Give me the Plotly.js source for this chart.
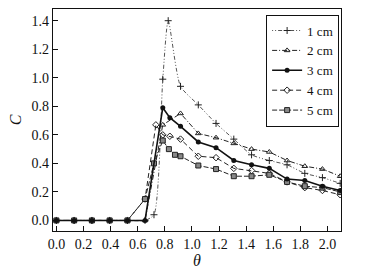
<!DOCTYPE html>
<html><head><meta charset="utf-8">
<script src="https://cdn.plot.ly/plotly-3.0.1.min.js"></script>
<style>html,body{margin:0;padding:0;background:#fff}#c{width:365px;height:279px}</style>
</head><body><div id="c"></div>
<script>
const names = ["1 cm", "2 cm", "3 cm", "4 cm", "5 cm"];
const x1 = [0, 0.131, 0.262, 0.393, 0.524, 0.654, 0.72, 0.785, 0.825, 0.916, 1.047, 1.178, 1.309, 1.44, 1.571, 1.702, 1.833, 1.963, 2.094];
const y1 = [0, 0, 0, 0, 0, 0, 0.04, 0.99, 1.40, 0.94, 0.81, 0.68, 0.57, 0.46, 0.42, 0.39, 0.33, 0.30, 0.26];
const x2 = [0, 0.131, 0.262, 0.393, 0.524, 0.654, 0.785, 0.916, 1.047, 1.178, 1.309, 1.44, 1.571, 1.702, 1.833, 1.963, 2.094];
const y2 = [0, 0, 0, 0, 0, 0, 0.67, 0.75, 0.61, 0.58, 0.54, 0.50, 0.48, 0.42, 0.38, 0.36, 0.31];
const x3 = [0, 0.131, 0.262, 0.393, 0.524, 0.654, 0.785, 0.837, 0.916, 1.047, 1.178, 1.309, 1.44, 1.571, 1.702, 1.833, 1.963, 2.094];
const y3 = [0, 0, 0, 0, 0, 0, 0.79, 0.72, 0.66, 0.55, 0.51, 0.42, 0.39, 0.365, 0.29, 0.28, 0.24, 0.21];
const x4 = [0, 0.131, 0.262, 0.393, 0.524, 0.654, 0.734, 0.785, 0.837, 0.916, 1.047, 1.178, 1.309, 1.44, 1.571, 1.702, 1.833, 1.963, 2.094];
const y4 = [0, 0, 0, 0, 0, 0.15, 0.67, 0.60, 0.59, 0.57, 0.45, 0.44, 0.365, 0.35, 0.33, 0.27, 0.23, 0.21, 0.18];
const x5 = [0, 0.131, 0.262, 0.393, 0.524, 0.654, 0.72, 0.785, 0.83, 0.875, 0.916, 1.047, 1.178, 1.309, 1.44, 1.571, 1.702, 1.833, 1.963, 2.094];
const y5 = [0, 0, 0, 0, 0, 0.15, 0.40, 0.56, 0.50, 0.46, 0.45, 0.385, 0.36, 0.31, 0.31, 0.32, 0.27, 0.24, 0.23, 0.20];
const xTicks = [0, 0.2, 0.4, 0.6, 0.8, 1.0, 1.2, 1.4, 1.6, 1.8, 2.0];
const yTicks = [0, 0.2, 0.4, 0.6, 0.8, 1.0, 1.2, 1.4];

const font = "Liberation Serif, Times New Roman, serif";
const traces = [
  {x: x1, y: y1, name: names[0], mode: "lines+markers", legendrank: 1,
   line: {color: "#555", width: 1, dash: "1px,2px,1px,2px,4px,2px", shape: "spline", smoothing: 0.6},
   marker: {symbol: "cross-thin", size: 5, line: {color: "#222", width: 1}}},
  {x: x2, y: y2, name: names[1], mode: "lines+markers", legendrank: 2,
   line: {color: "#222", width: 1, dash: "5px,2px,1px,2px"},
   marker: {symbol: "triangle-up-open", size: 5, color: "#222", line: {width: 1}}},
  {x: x4, y: y4, name: names[3], mode: "lines+markers", legendrank: 4,
   line: {color: "#222", width: 1, dash: "5px,3px"},
   marker: {symbol: "diamond-open", size: 5, color: "#222", line: {width: 1}}},
  {x: x5, y: y5, name: names[4], mode: "lines+markers", legendrank: 5,
   line: {color: "#222", width: 1, dash: "5px,2px"},
   marker: {symbol: "square", size: 5, color: "#888", line: {color: "#222", width: 1}}},
  {x: x3, y: y3, name: names[2], mode: "lines+markers", legendrank: 3,
   line: {color: "#111", width: 1.6},
   marker: {symbol: "circle", size: 5, color: "#111"}}
];
const layout = {
  width: 365, height: 279,
  margin: {l: 53, r: 24, t: 9, b: 48},
  paper_bgcolor: "#fff", plot_bgcolor: "#fff",
  font: {family: font, size: 14, color: "#111"},
  showlegend: true,
  legend: {x: 0.74, y: 0.975, xanchor: "left", yanchor: "top", bordercolor: "#111", borderwidth: 1,
           bgcolor: "#fff", font: {family: font, size: 13}, traceorder: "normal", itemwidth: 30, tracegroupgap: 0},
  xaxis: {range: [-0.025, 2.1], tickvals: xTicks, ticktext: xTicks.map(v => v.toFixed(1)),
          ticks: "inside", ticklen: 5, tickcolor: "#111", showline: true, linecolor: "#111", linewidth: 1.2,
          mirror: true, showgrid: false, zeroline: false, tickfont: {family: font, size: 14},
          title: {text: "<i>θ</i>", font: {family: font, size: 16}, standoff: 3}},
  yaxis: {range: [-0.074, 1.482], tickvals: yTicks, ticktext: yTicks.map(v => v.toFixed(1)),
          ticks: "inside", ticklen: 5, tickcolor: "#111", showline: true, linecolor: "#111", linewidth: 1.2,
          mirror: true, showgrid: false, zeroline: false, tickfont: {family: font, size: 14},
          title: {text: "<i>C</i>", font: {family: font, size: 16}, standoff: 6}}
};
Plotly.newPlot("c", traces, layout, {displayModeBar: false, staticPlot: true});
</script></body></html>
